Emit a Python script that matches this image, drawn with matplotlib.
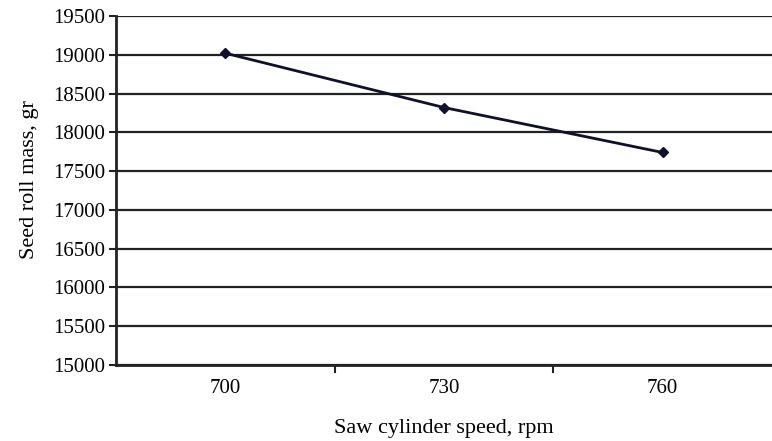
import matplotlib
import matplotlib.pyplot as plt

matplotlib.use('Agg')

plt.rcParams['font.family'] = ['Liberation Serif', 'DejaVu Serif']

speeds = ['700', '730', '760']
seed_mass = [19020, 18320, 17740]
y_ticks = list(range(15000, 19501, 500))

fig = plt.figure(figsize=(7.72, 4.41), dpi=100)
ax = fig.add_axes([116 / 772, 1 - 365 / 441, 656 / 772, 349 / 441])

x = range(len(speeds))
ax.plot(x, seed_mass, color='#10102a', linewidth=2, marker='D', markersize=5)

ax.set_xlim(-0.5, len(speeds) - 0.5)
ax.set_ylim(15000, 19500)
ax.set_yticks(y_ticks)
ax.set_yticklabels([str(t) for t in y_ticks], fontsize=15)
ax.yaxis.grid(True, color='#222222', linewidth=1.6)
ax.set_axisbelow(True)

# ticks sit at the category boundaries, labels in the middle
ax.set_xticks([0.5, 1.5])
ax.set_xticklabels([])
ax.set_xticks(list(x), minor=True)
ax.set_xticklabels(speeds, minor=True, fontsize=15)
ax.tick_params(axis='x', which='major', direction='out', length=6, width=1.5, color='#222222')
ax.tick_params(axis='x', which='minor', length=0, pad=10)
ax.tick_params(axis='y', direction='out', length=5, width=1.5, color='#222222', pad=3)

for s in ['top', 'right']:
    ax.spines[s].set_visible(False)
for s in ['left', 'bottom']:
    ax.spines[s].set_linewidth(2)
    ax.spines[s].set_color('#222222')

ax.set_xlabel('Saw cylinder speed, rpm', fontsize=16, labelpad=15)
ax.set_ylabel('Seed roll mass, gr', fontsize=16)
ax.yaxis.set_label_coords(-0.117, 0.53)

fig.savefig('out.png', dpi=100)
